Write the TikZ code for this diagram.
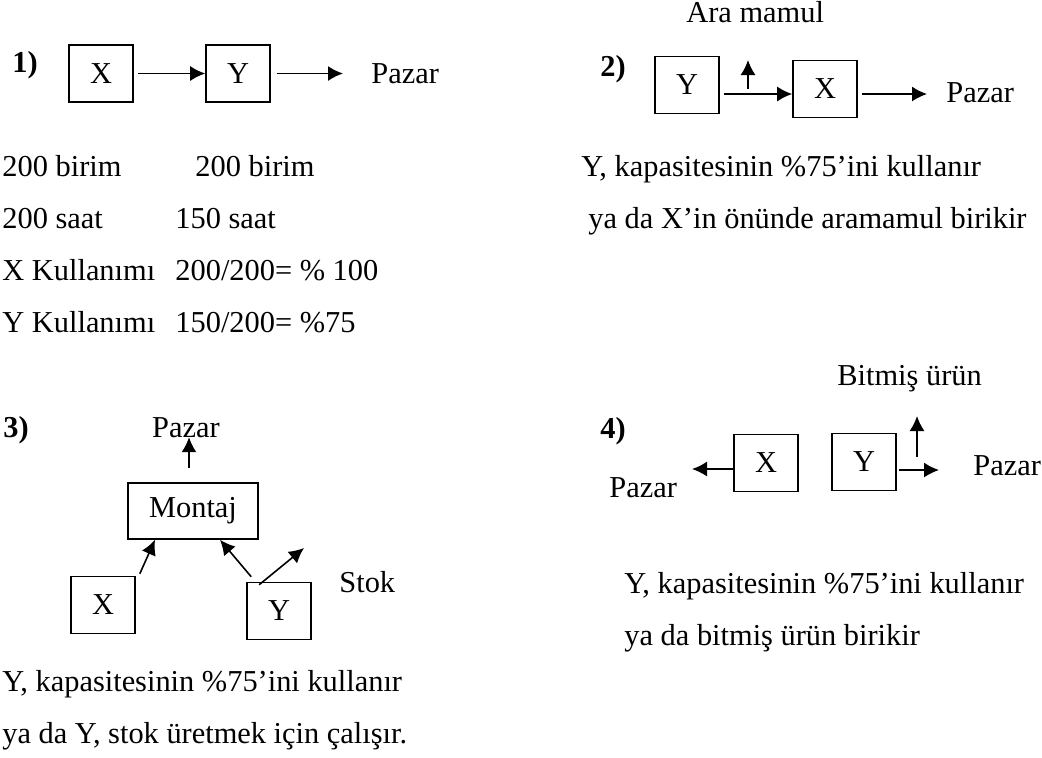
\documentclass[tikz,border=0pt]{standalone}
\usepackage{fontspec}
\setmainfont{Liberation Serif}
\usetikzlibrary{arrows.meta,calc}
\begin{document}
\begin{tikzpicture}[x=0.5pt,y=-0.5pt,
  font=\fontsize{15.2}{18}\selectfont,
  box/.style={draw,line width=0.8pt,minimum width=32pt,minimum height=28.5pt,inner sep=0pt},
  txt/.style={anchor=base west,inner sep=0pt},
  lbl/.style={anchor=base west,inner sep=0pt,font=\fontsize{15.2}{18}\selectfont\bfseries},
  arr/.style={line width=0.8pt,-{Latex[length=7.5pt,width=7.5pt]}}]
\useasboundingbox (0,0) rectangle (1042,757);

% ---------- Panel 1 ----------
\node[lbl] (n1) at (12,72) {1)};
\node[box] (bx1) at (101,73.5) {X};
\node[box] (by1) at (238,73.5) {Y};
\coordinate (p1tip) at (343,73.5);
\node[txt] (p1) at (371,83) {Pazar};
\draw[arr] ([xshift=2pt]bx1.east) -- (by1.west);
\draw[arr] ([xshift=3pt]by1.east) -- (p1tip);

\node[txt] (t11) at (2,176) {200 birim};
\node[txt] (t12) at (195,176) {200 birim};
\node[txt] (t13) at (2,228) {200 saat};
\node[txt] (t14) at (175,228) {150 saat};
\node[txt] (t15) at (2,280) {X Kullanımı};
\node[txt] (t16) at (175,280) {200/200= \% 100};
\node[txt] (t17) at (2,332) {Y Kullanımı};
\node[txt] (t18) at (175,332) {150/200= \%75};

% ---------- Panel 2 ----------
\node[txt] (ara) at (686,22) {Ara mamul};
\node[lbl] (n2) at (600,76) {2)};
\node[box] (by2) at (687,85) {Y};
\node[box] (bx2) at (825,89) {X};
\coordinate (up2a) at (748,89);
\coordinate (up2b) at (748,60);
\coordinate (p2tip) at (927,94);
\node[txt] (p2) at (946,102) {Pazar};
\draw[arr] ([xshift=2pt,yshift=-4.5pt]by2.east) -- ([yshift=-2.5pt]bx2.west);
\draw[arr] (up2a) -- (up2b);
\draw[arr] ([xshift=2pt,yshift=-2.5pt]bx2.east) -- (p2tip);

\node[txt] (t21) at (581,176) {Y, kapasitesinin \%75’ini kullanır};
\node[txt] (t22) at (588,228) {ya da X’in önünde aramamul birikir};

% ---------- Panel 3 ----------
\node[lbl] (n3) at (3,437) {3)};
\node[anchor=base,inner sep=0pt] (p3) at (186,437) {Pazar};
\node[draw,line width=0.8pt,minimum width=65pt,minimum height=28pt,inner sep=0pt] (montaj) at (193,511) {Montaj};
\node[box] (bx3) at (103,605) {X};
\node[box] (by3) at (279,611) {Y};
\node[txt] (stok) at (339,592) {Stok};
\coordinate (stoktip) at (304,548);
\draw[arr] ($(montaj.north)+(-4,-14)$) -- ($(montaj.north)+(-4,-45)$);
\draw[arr] ($(bx3.north east)+(4,-2)$) -- ($(montaj.south)+(-38,0)$);
\draw[arr] ($(by3.north west)+(5,-5)$) -- ($(montaj.south)+(27,0)$);
\draw[arr] ($(by3.north west)+(13,3)$) -- (stoktip);

\node[txt] (t31) at (2,691) {Y, kapasitesinin \%75’ini kullanır};
\node[txt] (t32) at (2,743) {ya da Y, stok üretmek için çalışır.};

% ---------- Panel 4 ----------
\node[txt] (bit) at (837,385) {Bitmiş ürün};
\node[lbl] (n4) at (600,438) {4)};
\node[box] (bx4) at (766,463) {X};
\node[box] (by4) at (864,462) {Y};
\coordinate (p4ltip) at (692,469);
\coordinate (p4rtip) at (939,470);
\coordinate (up4a) at (917,457);
\coordinate (up4b) at (917,416);
\node[txt] (p4l) at (609,497) {Pazar};
\node[txt] (p4r) at (973,475) {Pazar};
\draw[arr] ([yshift=-3pt]bx4.west) -- (p4ltip);
\draw[arr] ([xshift=1pt,yshift=-4pt]by4.east) -- (p4rtip);
\draw[arr] (up4a) -- (up4b);

\node[txt] (t41) at (624,593) {Y, kapasitesinin \%75’ini kullanır};
\node[txt] (t42) at (624,645) {ya da bitmiş ürün birikir};
\end{tikzpicture}
\end{document}
